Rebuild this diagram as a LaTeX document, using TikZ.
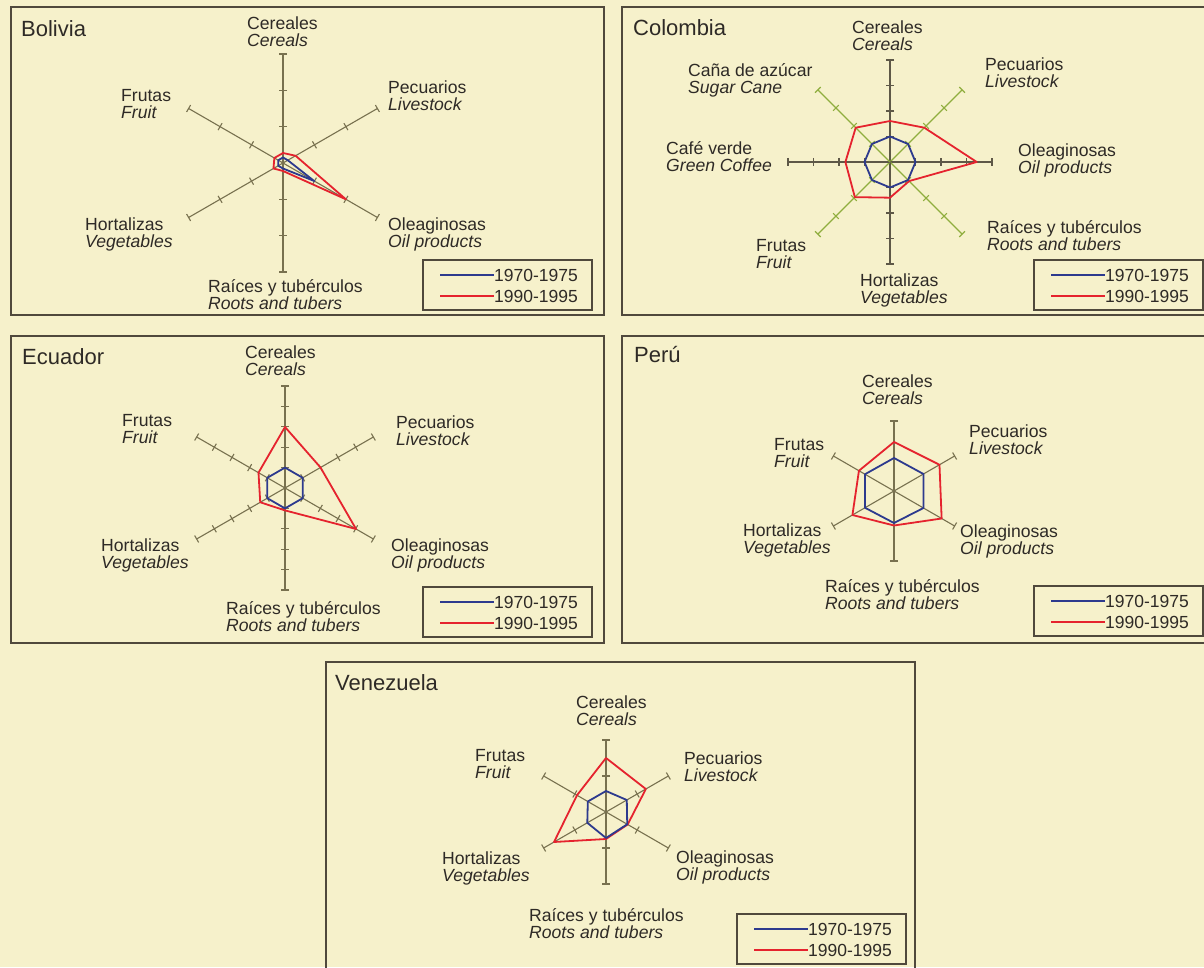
\documentclass[tikz,border=0pt]{standalone}
\usepackage{fontspec}
\setmainfont{Liberation Sans}
\usetikzlibrary{positioning}
\usetikzlibrary{calc}

\definecolor{paper}{HTML}{F6F1CB}
\definecolor{frame}{HTML}{50493C}
\definecolor{axisgray}{HTML}{78714F}
\definecolor{axisdark}{HTML}{5E5847}
\definecolor{axisgreen}{HTML}{8FAE3E}
\definecolor{oldblue}{HTML}{2D3A8E}
\definecolor{newred}{HTML}{E5232E}
\definecolor{ink}{HTML}{2E2A26}

\tikzset{
  panel/.style={draw=frame, line width=1.3pt},
  axisline/.style={draw=axisgray, line width=1.1pt},
  old/.style={draw=oldblue, line width=1.8pt, line join=round},
  new/.style={draw=newred, line width=1.8pt, line join=round},
  lbl/.style={anchor=west, align=left, inner sep=0pt, text=ink, font=\fontsize{17.6}{17}\selectfont},
  ttl/.style={anchor=west, inner sep=0pt, text=ink, font=\fontsize{22}{22}\selectfont},
  legbox/.style={draw=frame, line width=1.1pt},
  legtxt/.style={anchor=west, inner sep=0pt, text=ink, font=\fontsize{17.5}{18}\selectfont}
}

\begin{document}
\begin{tikzpicture}[x=1pt, y=1pt]
  \useasboundingbox (0,0) rectangle (1204,967);
  \fill[paper] (0,0) rectangle (1204,967);

  % the five panels
  \draw[panel] (11,960) rectangle (604,652);
  \draw[panel] (622,960) rectangle (1215,652);
  \draw[panel] (11,631) rectangle (604,324);
  \draw[panel] (622,631) rectangle (1215,324);
  \draw[panel] (326,305) rectangle (915,-10);

  % six axes with ticks (Bolivia, Ecuador, Peru, Venezuela)
  \foreach \p/\cx/\cy/\r/\n in {bo/283/804/109/3, ec/285/479/102/5, pe/894/476/70/1, ve/606/155/72/2} {
    \coordinate (\p-0) at (\cx,\cy);
    \foreach \a/\s in {90/c, 30/p, -30/o, -90/r, 210/h, 150/f} {
      \begin{scope}[shift={(\cx,\cy)}, rotate=\a]
        \coordinate (\p-\s) at (\r,0);
        \foreach \k in {1,...,\n} \draw[axisline] ({\k*\r/\n},-4) -- ({\k*\r/\n},4);
      \end{scope}
      \draw[axisline] (\p-0) -- (\p-\s);
    }
  }

  % eight axes for Colombia
  \coordinate (co-0) at (890,805);
  \foreach \a/\s/\c in {90/c/axisdark, 45/p/axisgreen, 0/o/axisdark, -45/r/axisgreen, -90/h/axisdark, -135/f/axisgreen, 180/v/axisdark, 135/z/axisgreen} {
    \begin{scope}[shift={(co-0)}, rotate=\a]
      \coordinate (co-\s) at (102,0);
      \foreach \k in {1,...,4} \draw[axisline, draw=\c] ({\k*25.5},-4) -- ({\k*25.5},4);
    \end{scope}
    \draw[axisline, draw=\c] (co-0) -- (co-\s);
  }

  % data polygons, radius in pt along each axis
  \begin{scope}[shift={(bo-0)}]
    \draw[new] (90:10) \foreach \a/\v in {30/14.5, -30/72.6, -90/8, 210/11, 150/10} { -- (\a:\v) } -- cycle;
    \draw[old] (90:5.5) \foreach \a/\v in {30/5.5, -30/36, -90/5.5, 210/5.5, 150/5.5} { -- (\a:\v) } -- cycle;
  \end{scope}
  \begin{scope}[shift={(co-0)}]
    \draw[new] (90:41) \foreach \a/\v in {45/48.5, 0/86.7, -45/27, -90/35.7, -135/49.7, 180/44.6, 135/48.5} { -- (\a:\v) } -- cycle;
    \draw[old] (90:25.5) \foreach \a in {45,0,...,-225} { -- (\a:25.5) } -- cycle;
  \end{scope}
  \begin{scope}[shift={(ec-0)}]
    \draw[new] (90:61) \foreach \a/\v in {30/41, -30/82, -90/22.4, 210/28.6, 150/30.6} { -- (\a:\v) } -- cycle;
    \draw[old] (90:20.4) \foreach \a in {30,-30,-90,210,150} { -- (\a:20.4) } -- cycle;
  \end{scope}
  \begin{scope}[shift={(pe-0)}]
    \draw[new] (90:49) \foreach \a/\v in {30/52.5, -30/55, -90/34.5, 210/48, 150/40.5} { -- (\a:\v) } -- cycle;
    \draw[old] (90:33) \foreach \a/\v in {30/34, -30/34, -90/32, 210/33.5, 150/33.5} { -- (\a:\v) } -- cycle;
  \end{scope}
  \begin{scope}[shift={(ve-0)}]
    \draw[new] (90:54) \foreach \a/\v in {30/46, -30/25, -90/27, 210/60, 150/33.5} { -- (\a:\v) } -- cycle;
    \draw[old] (90:21) \foreach \a/\v in {30/24, -30/24.5, -90/26, 210/21.6, 150/21} { -- (\a:\v) } -- cycle;
  \end{scope}

  % Bolivia labels
  \node[ttl] (bo-title) at (21,938) {Bolivia};
  \node[lbl] (bo-lc) at (247,935) {Cereales\\\textit{Cereals}};
  \node[lbl] (bo-lp) at (388,871.5) {Pecuarios\\\textit{Livestock}};
  \node[lbl] (bo-lf) at (121,863) {Frutas\\\textit{Fruit}};
  \node[lbl] (bo-lh) at (85,733) {Hortalizas\\\textit{Vegetables}};
  \node[lbl] (bo-lo) at (388,733) {Oleaginosas\\\textit{Oil products}};
  \node[lbl] (bo-lr) at (208,672.5) {Raíces y tubérculos\\\textit{Roots and tubers}};

  % Colombia labels
  \node[ttl] (co-title) at (633,939) {Colombia};
  \node[lbl] (co-lc) at (852,931) {Cereales\\\textit{Cereals}};
  \node[lbl] (co-lp) at (985,894.5) {Pecuarios\\\textit{Livestock}};
  \node[lbl] (co-lz) at (688,886.5) {Caña de azúcar\\\textit{Sugar Cane}};
  \node[lbl] (co-lv) at (666,810) {Café verde\\\textit{Green Coffee}};
  \node[lbl] (co-lo) at (1018,807) {Oleaginosas\\\textit{Oil products}};
  \node[lbl] (co-lr) at (987,731) {Raíces y tubérculos\\\textit{Roots and tubers}};
  \node[lbl] (co-lf) at (756,712.5) {Frutas\\\textit{Fruit}};
  \node[lbl] (co-lh) at (860,677) {Hortalizas\\\textit{Vegetables}};

  % Ecuador labels
  \node[ttl] (ec-title) at (22,610) {Ecuador};
  \node[lbl] (ec-lc) at (245,606) {Cereales\\\textit{Cereals}};
  \node[lbl] (ec-lp) at (396,536.5) {Pecuarios\\\textit{Livestock}};
  \node[lbl] (ec-lf) at (122,538) {Frutas\\\textit{Fruit}};
  \node[lbl] (ec-lh) at (101,411.5) {Hortalizas\\\textit{Vegetables}};
  \node[lbl] (ec-lo) at (391,412) {Oleaginosas\\\textit{Oil products}};
  \node[lbl] (ec-lr) at (226,350) {Raíces y tubérculos\\\textit{Roots and tubers}};

  % Peru labels
  \node[ttl] (pe-title) at (634,612) {Perú};
  \node[lbl] (pe-lc) at (862,577) {Cereales\\\textit{Cereals}};
  \node[lbl] (pe-lp) at (969,527) {Pecuarios\\\textit{Livestock}};
  \node[lbl] (pe-lf) at (774,514) {Frutas\\\textit{Fruit}};
  \node[lbl] (pe-lh) at (743,426.5) {Hortalizas\\\textit{Vegetables}};
  \node[lbl] (pe-lo) at (960,425.5) {Oleaginosas\\\textit{Oil products}};
  \node[lbl] (pe-lr) at (825,372) {Raíces y tubérculos\\\textit{Roots and tubers}};

  % Venezuela labels
  \node[ttl] (ve-title) at (335,284) {Venezuela};
  \node[lbl] (ve-lc) at (576,256.5) {Cereales\\\textit{Cereals}};
  \node[lbl] (ve-lp) at (684,200.5) {Pecuarios\\\textit{Livestock}};
  \node[lbl] (ve-lf) at (475,202.5) {Frutas\\\textit{Fruit}};
  \node[lbl] (ve-lh) at (442,99) {Hortalizas\\\textit{Vegetables}};
  \node[lbl] (ve-lo) at (676,99.5) {Oleaginosas\\\textit{Oil products}};
  \node[lbl] (ve-lr) at (529,43) {Raíces y tubérculos\\\textit{Roots and tubers}};

  % legends
  \foreach \p/\lx/\ly in {bo/423/707, co/1034/707, ec/423/380, pe/1034/381, ve/737/53} {
    \draw[legbox] (\lx,\ly) rectangle ++(169,-50);
    \coordinate (\p-k1) at (\lx+17,\ly-15);
    \coordinate (\p-k2) at (\lx+17,\ly-36);
    \node[legtxt] (\p-t1) at (\lx+71,\ly-15) {1970-1975};
    \node[legtxt] (\p-t2) at (\lx+71,\ly-36) {1990-1995};
    \draw[old] (\p-k1) -- (\p-t1.west);
    \draw[new] (\p-k2) -- (\p-t2.west);
  }
\end{tikzpicture}
\end{document}
